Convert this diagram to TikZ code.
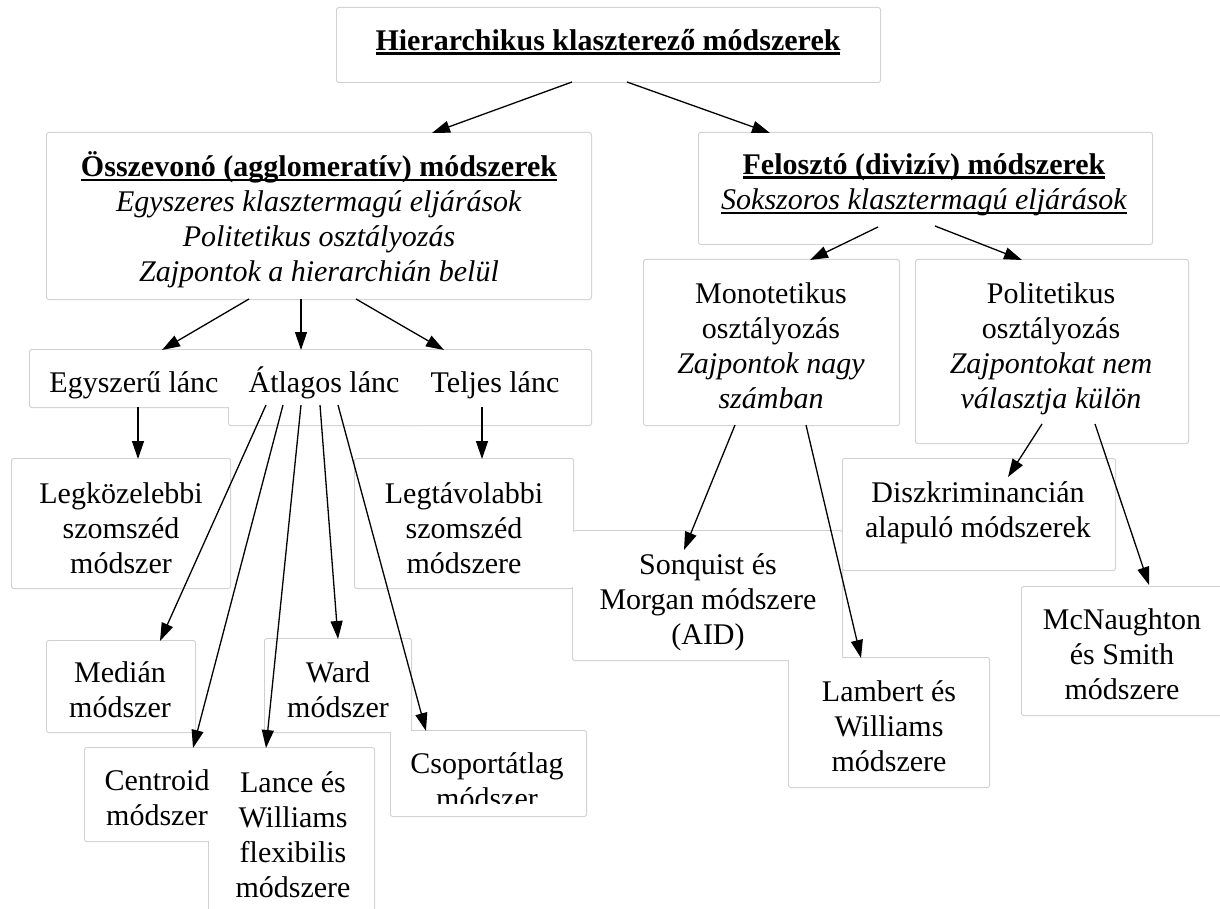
\documentclass[tikz,border=0pt]{standalone}
\usepackage{fontspec}
\setmainfont{Liberation Serif}
\usetikzlibrary{arrows.meta}
\pgfdeclarelayer{boxes}
\pgfsetlayers{boxes,main}
\definecolor{edgegray}{RGB}{208,208,208}
% underline with a chosen rule thickness
\newcommand{\undl}[2][2pt]{\leavevmode\setbox0=\hbox{#2}\rlap{\rule[-4.5pt]{\wd0}{#1}}\box0}

\begin{document}
\begin{tikzpicture}[x=1pt,y=-1pt,
  box/.style={rectangle,inner sep=0pt,outer sep=0pt},
  txt/.style={inner sep=0pt,align=center,font=\fontsize{30}{35}\selectfont},
  arr/.style={-{Triangle[length=18pt,width=12pt]},line width=1.3pt}]
\useasboundingbox (0,0) rectangle (1220,909);

% boxes (positions and sizes)
\node[box,minimum width=543pt,minimum height=74pt]  (top)   at (608.5,45) {};
\node[box,minimum width=544pt,minimum height=166pt] (osz)   at (319,216) {};
\node[box,minimum width=453pt,minimum height=111pt] (felo)  at (925.5,188.5) {};
\node[box,minimum width=208pt,minimum height=57pt]  (egy)   at (134,378.5) {};
\node[box,minimum width=191pt,minimum height=75pt]  (atl)   at (324.5,387.5) {};
\node[box,minimum width=191pt,minimum height=75pt]  (telj)  at (495.5,387.5) {};
\node[box,minimum width=255pt,minimum height=165pt] (mono)  at (771.5,342.5) {};
\node[box,minimum width=272pt,minimum height=183pt] (poli)  at (1052,351.5) {};
\node[box,minimum width=218pt,minimum height=129pt] (legk)  at (121,523.5) {};
\node[box,minimum width=218pt,minimum height=129pt] (legt)  at (464,523.5) {};
\node[box,minimum width=272pt,minimum height=111pt] (disz)  at (979,514.5) {};
\node[box,minimum width=269pt,minimum height=129pt] (sonq)  at (707.5,595.5) {};
\node[box,minimum width=202pt,minimum height=128pt] (mcn)   at (1123,651) {};
\node[box,minimum width=200pt,minimum height=129pt] (lamb)  at (889,722.5) {};
\node[box,minimum width=148pt,minimum height=91pt]  (med)   at (121,686.5) {};
\node[box,minimum width=146pt,minimum height=93pt]  (ward)  at (338,685.5) {};
\node[box,minimum width=144pt,minimum height=93pt]  (centr) at (157,794.5) {};
\node[box,minimum width=165pt,minimum height=174pt] (lance) at (291.5,835) {};
\node[box,minimum width=195pt,minimum height=85pt]  (csop)  at (488.5,773.5) {};

% outlines: strokes first, then white fills, so overlapping boxes merge
\begin{pgfonlayer}{boxes}
  \fill[white] (0,0) rectangle (1220,909);
  \foreach \n in {top,osz,felo,egy,atl,telj,mono,poli,legk,legt,disz,sonq,mcn,lamb,med,ward,centr,lance,csop}
    \draw[edgegray,line width=2pt,rounded corners=2pt] (\n.north west) rectangle (\n.south east);
  \foreach \n in {top,osz,felo,egy,atl,telj,mono,poli,legk,legt,disz,sonq,mcn,lamb,med,ward,centr,lance,csop}
    \fill[white,rounded corners=2pt] (\n.north west) rectangle (\n.south east);
\end{pgfonlayer}

% texts
\node[txt] (t-top) at (608,42) {\textbf{\undl[2.5pt]{Hierarchikus klaszterező módszerek}}};
\node[txt] (t-osz) at (319,220) {\textbf{\undl[2.5pt]{Összevonó (agglomeratív) módszerek}}\\
  \textit{Egyszeres klasztermagú eljárások}\\ \textit{Politetikus osztályozás}\\
  \textit{Zajpontok a hierarchián belül}};
\node[txt] (t-felo) at (924,184.5) {\textbf{\undl[2.5pt]{Felosztó (divizív) módszerek}}\\
  \textit{\undl[1.5pt]{Sokszoros klasztermagú eljárások}}};
\node[txt,anchor=base] (t-egy)  at (134,392) {Egyszerű lánc};
\node[txt,anchor=base] (t-atl)  at (324,392) {Átlagos lánc};
\node[txt,anchor=base] (t-telj) at (495,392) {Teljes lánc};
\node[txt] (t-mono) at (771,345.5) {Monotetikus\\osztályozás\\\textit{Zajpontok nagy}\\\textit{számban}};
\node[txt] (t-poli) at (1051,348.5) {Politetikus\\osztályozás\\\textit{Zajpontokat nem}\\\textit{választja külön}};
\node[txt] (t-legk) at (121,528) {Legközelebbi\\szomszéd\\módszer};
\node[txt] (t-legt) at (464,528) {Legtávolabbi\\szomszéd\\módszere};
\node[txt] (t-disz) at (978,513) {Diszkriminancián\\alapuló módszerek};
\node[txt] (t-sonq) at (708,602) {Sonquist és\\Morgan módszere\\(AID)};
\node[txt] (t-mcn)  at (1122,654) {McNaughton\\és Smith\\módszere};
\node[txt] (t-lamb) at (889,726) {Lambert és\\Williams\\módszere};
\node[txt] (t-med)  at (120,690) {Medián\\módszer};
\node[txt] (t-ward) at (338,690) {Ward\\módszer};
\node[txt] (t-centr) at (157,797.5) {Centroid\\módszer};
\node[txt] (t-lance) at (293,835) {Lance és\\Williams\\flexibilis\\módszere};
\begin{scope}
  \clip (391,731) rectangle (586,803);
  \node[txt] (t-csop) at (487,780.5) {Csoportátlag\\módszer};
\end{scope}

% connectors
\draw[arr] ([xshift=-36.5pt]top.south) -- ([xshift=113pt]osz.north);
\draw[arr] ([xshift=18.5pt]top.south) -- ([xshift=-155.5pt]felo.north);
\draw[arr] ([xshift=-70pt]osz.south) -- ([xshift=28pt]egy.north);
\draw[arr] ([xshift=-18pt]osz.south) -- ([xshift=-23.5pt]atl.north);
\draw[arr] ([xshift=37pt]osz.south) -- ([xshift=-51.5pt]telj.north);
\draw[arr] ([xshift=4pt]egy.south) -- ([xshift=17pt]legk.north);
\draw[arr] ([xshift=-13.5pt,yshift=18pt]telj.south) -- ([xshift=18pt]legt.north);
\draw[arr] ([xshift=-58.5pt,yshift=20pt]atl.south) -- ([xshift=39pt]med.north);
\draw[arr] ([xshift=-41.5pt,yshift=20pt]atl.south) -- ([xshift=36pt]centr.north);
\draw[arr] ([xshift=-23.5pt,yshift=20pt]atl.south) -- ([xshift=-25.5pt]lance.north);
\draw[arr] ([xshift=-4.5pt,yshift=20pt]atl.south) -- (ward.north);
\draw[arr] ([xshift=13.5pt,yshift=20pt]atl.south) -- ([xshift=-62.5pt]csop.north);
\draw[arr] ([xshift=-47.5pt,yshift=17pt]felo.south) -- ([xshift=38.5pt]mono.north);
\draw[arr] ([xshift=9.5pt,yshift=18pt]felo.south) -- ([xshift=-30pt]poli.north);
\draw[arr] ([xshift=-36.5pt]mono.south) -- ([xshift=-23.5pt,yshift=-19pt]sonq.north);
\draw[arr] ([xshift=34.5pt]mono.south) -- ([xshift=-28pt]lamb.north);
\draw[arr] ([xshift=-10pt,yshift=19pt]poli.south) -- ([xshift=29pt,yshift=-18pt]disz.north);
\draw[arr] ([xshift=43pt,yshift=19pt]poli.south) -- ([xshift=26pt,yshift=2pt]mcn.north);
\end{tikzpicture}
\end{document}
